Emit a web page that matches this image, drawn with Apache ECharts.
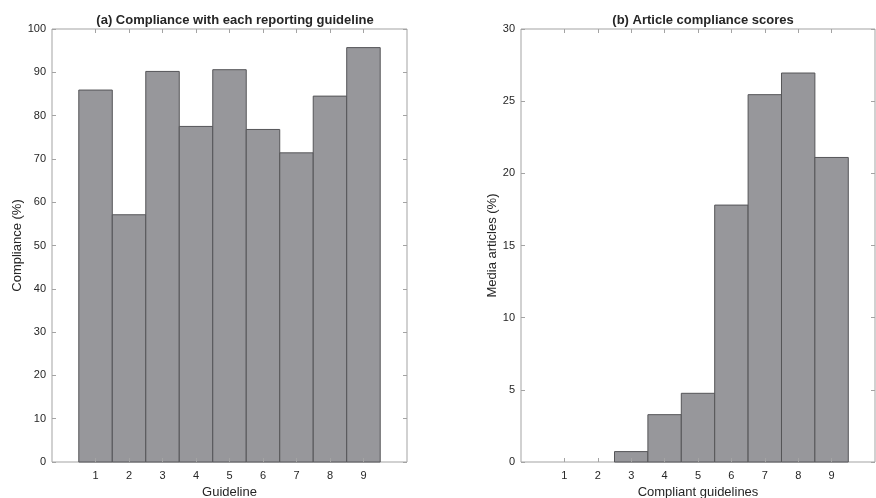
<!DOCTYPE html>
<html>
<head>
<meta charset="utf-8">
<script src="https://cdn.jsdelivr.net/npm/echarts@6/dist/echarts.min.js"></script>
<style>
  html, body { margin: 0; padding: 0; background: #fff; }
  #chart { width: 876px; height: 498px; }
</style>
</head>
<body>
<div id="chart"></div>
<script>
// panel (a)
var guidelines = [1, 2, 3, 4, 5, 6, 7, 8, 9];
var compliance = [85.9, 57.1, 90.2, 77.5, 90.6, 76.8, 71.4, 84.5, 95.7];
// panel (b)
var scores = [1, 2, 3, 4, 5, 6, 7, 8, 9];
var articles = [0, 0, 0.72, 3.28, 4.76, 17.8, 25.45, 26.95, 21.1];

var xTicks = [1, 2, 3, 4, 5, 6, 7, 8, 9];

var textColor = '#262626';
var boxColor = '#a3a3a3';
var font = 'Liberation Sans, Arial, Helvetica, sans-serif';

var chart = echarts.init(document.getElementById('chart'));

function toPairs(xs, ys) {
  return xs.map(function (x, i) { return [x, ys[i]]; });
}

// histogram-style bars, width 1, touching
function renderBar(params, api) {
  var x = api.value(0);
  var y = api.value(1);
  if (!y) return null;
  var p0 = api.coord([x - 0.5, y]);
  var p1 = api.coord([x + 0.5, 0]);
  return {
    type: 'rect',
    shape: { x: p0[0], y: p0[1], width: p1[0] - p0[0], height: p1[1] - p0[1] },
    style: { fill: '#97979b', stroke: '#555558', lineWidth: 1 }
  };
}

function xAxes(gridIndex, name) {
  return [{
    gridIndex: gridIndex,
    type: 'value',
    z: 5,
    min: -0.3,
    max: 10.3,
    name: name,
    nameLocation: 'middle',
    nameGap: 23,
    nameTextStyle: { color: textColor, fontSize: 13, fontFamily: font },
    axisLine: { show: false, onZero: false },
    axisTick: { inside: true, length: 4, customValues: xTicks, lineStyle: { color: boxColor } },
    axisLabel: { customValues: xTicks, margin: 8, color: textColor, fontSize: 11, fontFamily: font },
    splitLine: { show: false }
  }, {
    gridIndex: gridIndex,
    type: 'value',
    z: 5,
    position: 'top',
    min: -0.3,
    max: 10.3,
    axisLine: { show: false, onZero: false },
    axisTick: { inside: true, length: 4, customValues: xTicks, lineStyle: { color: boxColor } },
    axisLabel: { show: false },
    splitLine: { show: false }
  }];
}

function yAxes(gridIndex, name, max, interval) {
  return [{
    gridIndex: gridIndex,
    type: 'value',
    z: 5,
    min: 0,
    max: max,
    interval: interval,
    name: name,
    nameLocation: 'middle',
    nameGap: gridIndex === 0 ? 27 : 21,
    nameTextStyle: { color: textColor, fontSize: 13, fontFamily: font },
    axisLine: { show: false, onZero: false },
    axisTick: { inside: true, length: 4, lineStyle: { color: boxColor } },
    axisLabel: { margin: 6, color: textColor, fontSize: 11, fontFamily: font },
    splitLine: { show: false }
  }, {
    gridIndex: gridIndex,
    type: 'value',
    z: 5,
    position: 'right',
    min: 0,
    max: max,
    interval: interval,
    axisLine: { show: false, onZero: false },
    axisTick: { inside: true, length: 4, lineStyle: { color: boxColor } },
    axisLabel: { show: false },
    splitLine: { show: false }
  }];
}

chart.setOption({
  backgroundColor: '#fff',
  animation: false,
  title: [{
    text: '(a) Compliance with each reporting guideline',
    left: 230,
    top: 9,
    textAlign: 'center',
    textStyle: { color: textColor, fontSize: 13, fontWeight: 'bold', fontFamily: font }
  }, {
    text: '(b) Article compliance scores',
    left: 698,
    top: 9,
    textAlign: 'center',
    textStyle: { color: textColor, fontSize: 13, fontWeight: 'bold', fontFamily: font }
  }],
  grid: [
    { left: 52, right: 469, top: 29, bottom: 36, outerBoundsMode: 'none', show: true, borderColor: boxColor, borderWidth: 1 },
    { left: 521, right: 1, top: 29, bottom: 36, outerBoundsMode: 'none', show: true, borderColor: boxColor, borderWidth: 1 }
  ],
  xAxis: xAxes(0, 'Guideline').concat(xAxes(1, 'Compliant guidelines')),
  yAxis: yAxes(0, 'Compliance (%)', 100, 10).concat(yAxes(1, 'Media articles (%)', 30, 5)),
  series: [{
    type: 'custom',
    xAxisIndex: 0,
    yAxisIndex: 0,
    z: 2,
    renderItem: renderBar,
    data: toPairs(guidelines, compliance)
  }, {
    type: 'custom',
    xAxisIndex: 2,
    yAxisIndex: 2,
    z: 2,
    renderItem: renderBar,
    data: toPairs(scores, articles)
  }]
});
</script>
</body>
</html>
